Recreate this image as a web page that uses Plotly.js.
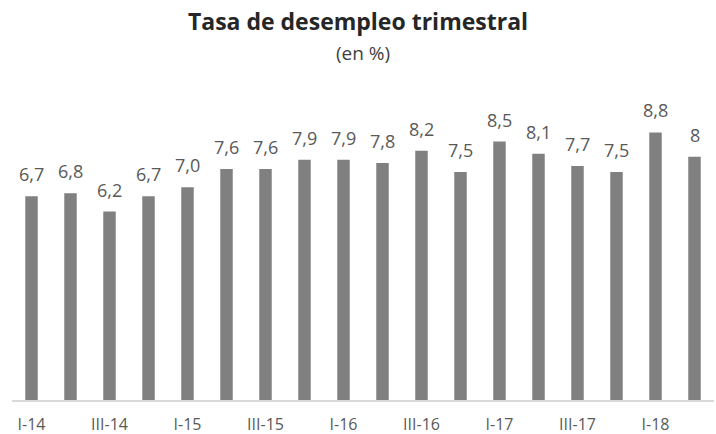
<!DOCTYPE html>
<html>
<head>
<meta charset="utf-8">
<script src="https://cdn.plot.ly/plotly-3.0.1.min.js"></script>
<style>html,body{margin:0;padding:0;background:#fff;}#chart{width:716px;height:434px;}</style>
</head>
<body>
<div id="chart"></div>
<script>
const quarters = ["I-14","II-14","III-14","IV-14","I-15","II-15","III-15","IV-15","I-16","II-16","III-16","IV-16","I-17","II-17","III-17","IV-17","I-18","II-18"];
const rates = [6.7, 6.8, 6.2, 6.7, 7.0, 7.6, 7.6, 7.9, 7.9, 7.8, 8.2, 7.5, 8.5, 8.1, 7.7, 7.5, 8.8, 8];
const rateLabels = ["6,7","6,8","6,2","6,7","7,0","7,6","7,6","7,9","7,9","7,8","8,2","7,5","8,5","8,1","7,7","7,5","8,8","8"];
const tickQuarters = ["I-14","III-14","I-15","III-15","I-16","III-16","I-17","III-17","I-18"];

const font = "Open Sans, Noto Sans, sans-serif";
const trace = {
  type: "bar",
  x: quarters,
  y: rates,
  marker: {color: "#808080"},
  width: 0.32,
  hoverinfo: "none"
};
const annotations = quarters.map((q, i) => ({
  x: q, y: rates[i], xref: "x", yref: "y",
  text: rateLabels[i], showarrow: false,
  yanchor: "bottom", yshift: 8,
  font: {family: font, size: 18, color: "#595959"}
}));
annotations.push({
  xref: "paper", yref: "paper", x: 0.5, y: 1, yanchor: "bottom", yshift: 28,
  text: "(en %)", showarrow: false,
  font: {family: font, size: 19, color: "#404040"}
});
const layout = {
  width: 716, height: 434,
  margin: {l: 11.5, r: 1.5, t: 96, b: 33.5},
  paper_bgcolor: "#fff", plot_bgcolor: "#fff",
  title: {
    text: "<b>Tasa de desempleo trimestral</b>",
    x: 0.5, xanchor: "center", y: 0.95, yanchor: "middle",
    font: {family: font, size: 23, color: "#262626"}
  },
  showlegend: false,
  bargap: 0.68,
  xaxis: {
    type: "category",
    tickmode: "array", tickvals: tickQuarters, ticktext: tickQuarters,
    showline: true, linecolor: "#d9d9d9", linewidth: 1.5,
    ticks: "", showgrid: false, zeroline: false,
    tickfont: {family: font, size: 16, color: "#595959"},
    ticklabelstandoff: 9
  },
  yaxis: {
    range: [0, 10], visible: false, showgrid: false, zeroline: false, fixedrange: true
  },
  annotations: annotations
};
Plotly.newPlot("chart", [trace], layout, {staticPlot: true});
</script>
</body>
</html>
